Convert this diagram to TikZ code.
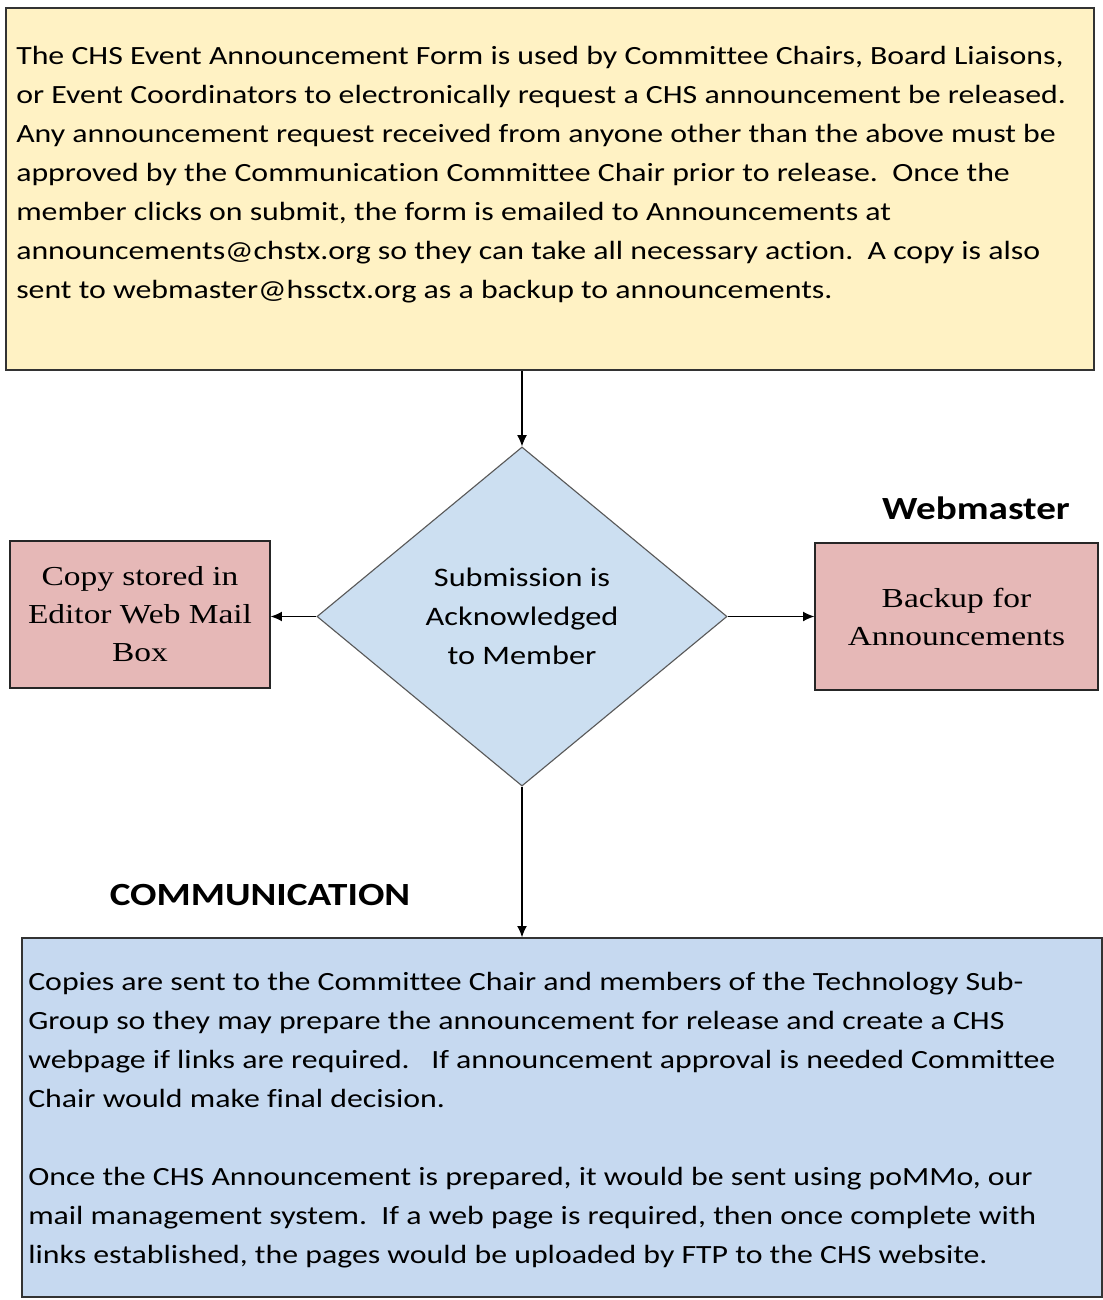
\documentclass[tikz,border=0pt]{standalone}
\usepackage{fontspec}
\setmainfont{Carlito}[FakeStretch=1.21, Ligatures=NoCommon]
\newfontfamily\boxfont{Liberation Serif}[FakeStretch=1.22]
\usetikzlibrary{shapes.geometric,arrows.meta}
\definecolor{noteyellow}{HTML}{FFF2C4}
\definecolor{ackblue}{HTML}{CCDFF1}
\definecolor{copyred}{HTML}{E6B8B7}
\definecolor{commblue}{HTML}{C6D9F0}
\begin{document}
\begin{tikzpicture}[>={Latex[length=8pt,width=7pt]}, x=0.025cm, y=-0.025cm,
    txt/.style={font=\fontsize{18.7}{27.7}\selectfont, align=left, inner sep=0pt},
    redbox/.style={draw=black!85, line width=1pt, fill=copyred, minimum height=3.675cm,
        font=\boxfont\fontsize{19.5}{27}\selectfont, align=center, inner sep=0pt},
    head/.style={font=\bfseries\fontsize{23}{27}\selectfont, inner sep=0pt}]
    \useasboundingbox (0,0) rectangle (1103,1300);
    \node[draw=black!80, line width=1pt, fill=noteyellow, minimum width=27.2cm, minimum height=9.05cm] (form) at (550,189) {};
    \node[txt, anchor=north west] (formtxt) at (16,46) {The CHS Event Announcement Form is used by Committee Chairs, Board Liaisons,\\
        or Event Coordinators to electronically request a CHS announcement be released.\\
        Any announcement request received from anyone other than the above must be\\
        approved by the Communication Committee Chair prior to release.\ \ Once the\\
        member clicks on submit, the form is emailed to Announcements at\\
        announcements@chstx.org so they can take all necessary action.\ \ A copy is also\\
        sent to webmaster@hssctx.org as a backup to announcements.};
    \node[diamond, draw=black!65, line width=0.8pt, fill=ackblue, aspect=1.21, minimum width=10.25cm, minimum height=8.475cm,
        inner sep=0pt, align=center, font=\fontsize{19}{27.7}\selectfont] (ack) at (522,616.5) {Submission is\\Acknowledged\\to Member};
    \node[redbox, minimum width=6.5cm] (copy) at (140,614.5) {Copy stored in\\Editor Web Mail\\Box};
    \node[redbox, minimum width=7.075cm] (backup) at (956.5,616.5) {Backup for\\Announcements};
    \node[head] (webmaster) at (976,508) {Webmaster};
    \node[head] (comm) at (260,895) {COMMUNICATION};
    \node[draw=black!80, line width=1pt, fill=commblue, minimum width=27cm, minimum height=8.975cm] (commbox) at (562,1117.5) {};
    \node[txt, anchor=north west] (commtxt) at (28,972) {Copies are sent to the Committee Chair and members of the Technology Sub-\\
        Group so they may prepare the announcement for release and create a CHS\\
        webpage if links are required.\ \ \ If announcement approval is needed Committee\\
        Chair would make final decision.\\[27.7pt]
        Once the CHS Announcement is prepared, it would be sent using poMMo, our\\
        mail management system.\ \ If a web page is required, then once complete with\\
        links established, the pages would be uploaded by FTP to the CHS website.};
    \draw[->, line width=0.8pt] (ack.north |- form.south) -- (ack.north);
    \draw[->, line width=0.8pt] (ack.west) -- (ack.west -| copy.east);
    \draw[->, line width=0.8pt] (ack.east) -- (ack.east -| backup.west);
    \draw[->, line width=0.8pt] (ack.south) -- (ack.south |- commbox.north);
\end{tikzpicture}
\end{document}
